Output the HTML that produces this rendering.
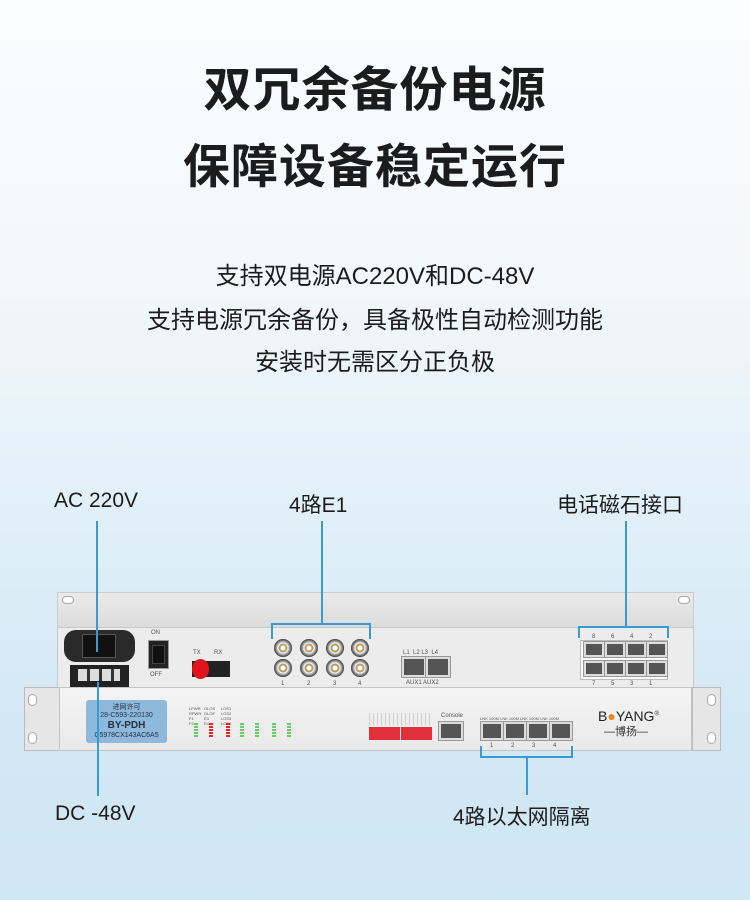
<!DOCTYPE html>
<html><head><meta charset="utf-8"><style>
*{margin:0;padding:0;box-sizing:border-box}
body{width:750px;height:900px;overflow:hidden;position:relative;font-family:"Liberation Sans","Noto Sans CJK SC",sans-serif;
background:linear-gradient(180deg,#fbfcfd 0%,#f3f8fb 30%,#e2f0f8 55%,#d3e8f5 80%,#cfe6f4 100%);}
.a{position:absolute}
.t{position:absolute;left:0;width:750px;text-align:center;color:#1c1c1c}
.ln{position:absolute;background:#3a9ad3}
.s{font-size:6px;color:#555;position:absolute;line-height:7px}
.bnc{position:absolute;width:18px;height:18px;border-radius:50%;background:radial-gradient(circle,#fff 0 2px,#b89a60 3px 4px,#fff 5px,#bbb 6px,#666 8px,#333 9px)}
.rj{position:absolute;background:#555;border:2px solid #ddd;outline:1px solid #999}
.led{position:absolute;width:4px;height:15px;background:repeating-linear-gradient(180deg,#6c6 0 2px,#eee 2px 3px)}
</style></head><body>
<div class="t" style="top:50px;font-size:48px;font-weight:bold;letter-spacing:1px">双冗余备份电源</div>
<div class="t" style="top:128px;font-size:47px;font-weight:bold;letter-spacing:1px">保障设备稳定运行</div>
<div class="t" style="top:256px;font-size:24px">支持双电源AC220V和DC-48V</div>
<div class="t" style="top:300px;font-size:24px">支持电源冗余备份，具备极性自动检测功能</div>
<div class="t" style="top:342px;font-size:24px">安装时无需区分正负极</div>

<div class="a" style="left:54px;top:489px;font-size:21px;color:#1c1c1c">AC 220V</div>
<div class="a" style="left:289px;top:489px;font-size:21px;color:#1c1c1c">4路E1</div>
<div class="a" style="left:557px;top:489px;font-size:21px;color:#1c1c1c">电话磁石接口</div>
<div class="a" style="left:55px;top:802px;font-size:21px;color:#1c1c1c">DC -48V</div>
<div class="a" style="left:453px;top:801px;font-size:21px;color:#1c1c1c">4路以太网隔离</div>

<!-- back unit -->
<div class="a" style="left:57px;top:592px;width:637px;height:36px;background:linear-gradient(180deg,#eaeaea,#dcdcdc);border:1px solid #ccc"></div>
<div class="a" style="left:62px;top:596px;width:12px;height:8px;border-radius:4px;background:#fff;border:1px solid #aaa"></div>
<div class="a" style="left:678px;top:596px;width:12px;height:8px;border-radius:4px;background:#fff;border:1px solid #aaa"></div>
<div class="a" style="left:57px;top:627px;width:637px;height:62px;background:#ececec;border:1px solid #c8c8c8"></div>
<div class="a" style="left:64px;top:630px;width:71px;height:32px;background:#2a2a2a;border-radius:12px"></div>
<div class="a" style="left:82px;top:634px;width:34px;height:24px;background:#111;border:1px solid #555"></div>
<div class="a" style="left:70px;top:665px;width:59px;height:22px;background:#222"></div>
<div class="a" style="left:78px;top:669px;width:42px;height:12px;background:repeating-linear-gradient(90deg,#ddd 0 9px,#333 9px 12px)"></div>
<div class="s" style="left:151px;top:630px">ON</div>
<div class="a" style="left:148px;top:640px;width:21px;height:29px;background:#222;border:1px solid #999"></div>
<div class="a" style="left:152px;top:645px;width:13px;height:19px;background:#111;border:1px solid #444"></div>
<div class="s" style="left:150px;top:672px">OFF</div>
<div class="s" style="left:193px;top:650px">TX</div><div class="s" style="left:214px;top:650px">RX</div>
<div class="a" style="left:192px;top:661px;width:38px;height:16px;background:#222"></div>
<div class="a" style="left:192px;top:659px;width:17px;height:20px;border-radius:50%;background:#e3131b"></div>
<div class="bnc" style="left:274px;top:639px"></div><div class="bnc" style="left:300px;top:639px"></div><div class="bnc" style="left:326px;top:639px"></div><div class="bnc" style="left:351px;top:639px"></div>
<div class="bnc" style="left:274px;top:659px"></div><div class="bnc" style="left:300px;top:659px"></div><div class="bnc" style="left:326px;top:659px"></div><div class="bnc" style="left:351px;top:659px"></div>
<div class="s" style="left:281px;top:681px">1</div><div class="s" style="left:307px;top:681px">2</div><div class="s" style="left:333px;top:681px">3</div><div class="s" style="left:358px;top:681px">4</div>
<div class="s" style="left:403px;top:650px">L1 &nbsp;L2 L3 &nbsp;L4</div>
<div class="rj" style="left:402px;top:657px;width:24px;height:20px"></div><div class="rj" style="left:426px;top:657px;width:24px;height:20px"></div>
<div class="s" style="left:406px;top:680px">AUX1 AUX2</div>
<div class="a" style="left:580px;top:640px;width:88px;height:40px;background:#fafafa;border:1px solid #bbb"></div>
<div class="s" style="left:592px;top:634px;word-spacing:14px">8 6 4 2</div>
<div class="rj" style="left:584px;top:642px;width:20px;height:15px"></div><div class="rj" style="left:605px;top:642px;width:20px;height:15px"></div><div class="rj" style="left:626px;top:642px;width:20px;height:15px"></div><div class="rj" style="left:647px;top:642px;width:20px;height:15px"></div>
<div class="rj" style="left:584px;top:661px;width:20px;height:15px"></div><div class="rj" style="left:605px;top:661px;width:20px;height:15px"></div><div class="rj" style="left:626px;top:661px;width:20px;height:15px"></div><div class="rj" style="left:647px;top:661px;width:20px;height:15px"></div>
<div class="s" style="left:592px;top:681px;word-spacing:14px">7 5 3 1</div>

<!-- front unit -->
<div class="a" style="left:24px;top:687px;width:36px;height:64px;background:#e6e6e6;border:1px solid #bbb"></div>
<div class="a" style="left:692px;top:687px;width:29px;height:64px;background:#e6e6e6;border:1px solid #bbb"></div>
<div class="a" style="left:28px;top:694px;width:9px;height:12px;border-radius:5px;background:#fff;border:1px solid #aaa"></div>
<div class="a" style="left:28px;top:732px;width:9px;height:12px;border-radius:5px;background:#fff;border:1px solid #aaa"></div>
<div class="a" style="left:707px;top:694px;width:9px;height:12px;border-radius:5px;background:#fff;border:1px solid #aaa"></div>
<div class="a" style="left:707px;top:732px;width:9px;height:12px;border-radius:5px;background:#fff;border:1px solid #aaa"></div>
<div class="a" style="left:59px;top:687px;width:633px;height:64px;background:linear-gradient(180deg,#f4f4f4,#e9e9e9);border:1px solid #c4c4c4"></div>
<div class="a" style="left:86px;top:700px;width:81px;height:43px;background:#8fb8dd;border-radius:3px;color:#234;font-size:7px;text-align:center;line-height:8px;padding-top:4px">进网许可<br>28-C593-220130<br><b style="font-size:10px;line-height:12px">BY-PDH</b><br>C5978CX143AC6A5</div>
<div class="s" style="left:189px;top:706px;font-size:4px;line-height:5px">LPWR<br>RPWR<br>F1<br>F2</div>
<div class="s" style="left:204px;top:706px;font-size:4px;line-height:5px">OLOS<br>OLOF<br>E3<br>E4</div>
<div class="s" style="left:221px;top:706px;font-size:4px;line-height:5px">LOS1<br>LOS2<br>LOS3<br>LOS4</div>
<div class="led" style="left:194px;top:723px"></div>
<div class="led" style="left:209px;top:723px;background:repeating-linear-gradient(180deg,#e22 0 2px,#eee 2px 3px)"></div>
<div class="led" style="left:226px;top:723px;background:repeating-linear-gradient(180deg,#e22 0 2px,#eee 2px 3px)"></div>
<div class="led" style="left:240px;top:723px"></div><div class="led" style="left:255px;top:723px"></div><div class="led" style="left:272px;top:723px"></div><div class="led" style="left:287px;top:723px"></div>
<div class="a" style="left:369px;top:713px;width:63px;height:12px;background:repeating-linear-gradient(90deg,#bbb 0 1px,transparent 1px 4px);opacity:.6"></div>
<div class="a" style="left:369px;top:727px;width:31px;height:13px;background:#e0303a"></div>
<div class="a" style="left:401px;top:727px;width:31px;height:13px;background:#e0303a"></div>
<div class="s" style="left:441px;top:713px">Console</div>
<div class="rj" style="left:439px;top:722px;width:24px;height:18px"></div>
<div class="s" style="left:480px;top:715px;font-size:4px">LNK 100M LNK 100M LNK 100M LNK 100M</div>
<div class="rj" style="left:481px;top:722px;width:22px;height:18px"></div><div class="rj" style="left:504px;top:722px;width:22px;height:18px"></div><div class="rj" style="left:527px;top:722px;width:22px;height:18px"></div><div class="rj" style="left:550px;top:722px;width:22px;height:18px"></div>
<div class="s" style="left:490px;top:743px;word-spacing:16px">1 2 3 4</div>
<div class="a" style="left:598px;top:708px;font-size:14px;color:#222;letter-spacing:0">B<span style="color:#e8871e">●</span>YANG<sup style="font-size:6px">®</sup></div>
<div class="a" style="left:604px;top:723px;font-size:11px;color:#333">—博扬—</div>

<!-- connector lines -->
<div class="ln" style="left:96px;top:521px;width:2px;height:131px"></div>
<div class="ln" style="left:97px;top:682px;width:2px;height:114px"></div>
<div class="ln" style="left:321px;top:521px;width:2px;height:103px"></div>
<div class="ln" style="left:271px;top:623px;width:100px;height:2px"></div>
<div class="ln" style="left:271px;top:623px;width:2px;height:16px"></div>
<div class="ln" style="left:369px;top:623px;width:2px;height:16px"></div>
<div class="ln" style="left:625px;top:521px;width:2px;height:106px"></div>
<div class="ln" style="left:578px;top:626px;width:91px;height:2px"></div>
<div class="ln" style="left:578px;top:626px;width:2px;height:12px"></div>
<div class="ln" style="left:667px;top:626px;width:2px;height:12px"></div>
<div class="ln" style="left:480px;top:756px;width:93px;height:2px"></div>
<div class="ln" style="left:480px;top:746px;width:2px;height:11px"></div>
<div class="ln" style="left:571px;top:746px;width:2px;height:11px"></div>
<div class="ln" style="left:526px;top:757px;width:2px;height:38px"></div>
</body></html>
